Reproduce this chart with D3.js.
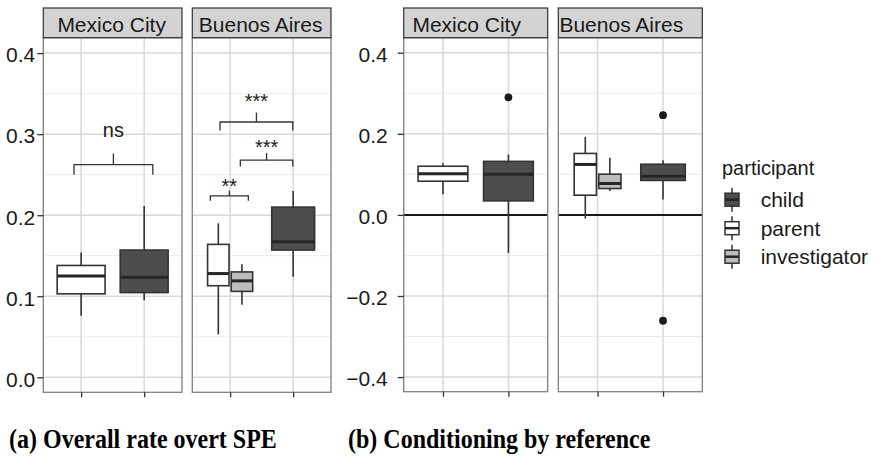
<!DOCTYPE html>
<html>
<head>
<meta charset="utf-8">
<script src="https://cdnjs.cloudflare.com/ajax/libs/d3/7.8.5/d3.min.js"></script>
<style>
body{margin:0;background:#fff}
text{font-family:'Liberation Sans',Arial,sans-serif;fill:#1a1a1a}
</style>
</head>
<body>
<div id="graph"></div>
<script>
var cities = ['Mexico City', 'Buenos Aires']
var participants = ['child', 'parent', 'investigator']
var fills = ['#4d4d4d', '#ffffff', '#bdbdbd']
// adults (parent, investigator) share the first slot, children the second
var slots = {child: 2, parent: 1, investigator: 1}

// city, participant, lower whisker, q1, median, q3, upper whisker
var overallBoxes = [
  ['Mexico City', 'parent', 0.076, 0.103, 0.125, 0.138, 0.154],
  ['Mexico City', 'child', 0.095, 0.1045, 0.1235, 0.157, 0.2115],
  ['Buenos Aires', 'parent', 0.053, 0.113, 0.128, 0.164, 0.19],
  ['Buenos Aires', 'investigator', 0.0896, 0.106, 0.119, 0.130, 0.1395],
  ['Buenos Aires', 'child', 0.124, 0.157, 0.1674, 0.21, 0.23]
]
var overallTicks = [0, 0.1, 0.2, 0.3, 0.4]
var overallMinor = [0.05, 0.15, 0.25, 0.35]

// city, x start, x end, bracket y, tip length, label y, label
var overallSignif = [
  ['Mexico City', 0.887, 2.137, 0.2625, 0.0125, 0.297, 'ns'],
  ['Buenos Aires', 0.84, 1.994, 0.315, 0.0105, 0.3325, '***'],
  ['Buenos Aires', 1.162, 1.994, 0.268, 0.008, 0.2757, '***'],
  ['Buenos Aires', 0.686, 1.289, 0.2238, 0.006, 0.2275, '**']
]

var conditionBoxes = [
  ['Mexico City', 'parent', 0.051, 0.0831, 0.1012, 0.12, 0.128],
  ['Mexico City', 'child', -0.0938, 0.0346, 0.1005, 0.132, 0.149],
  ['Buenos Aires', 'parent', -0.009, 0.0486, 0.1244, 0.1516, 0.1926],
  ['Buenos Aires', 'investigator', 0.059, 0.065, 0.0775, 0.1005, 0.1407],
  ['Buenos Aires', 'child', 0.038, 0.085, 0.0955, 0.125, 0.135]
]
var conditionOutliers = [
  ['Mexico City', 'child', 0.29],
  ['Buenos Aires', 'child', 0.246],
  ['Buenos Aires', 'child', -0.261]
]
var conditionTicks = [-0.4, -0.2, 0, 0.2, 0.4]
var conditionMinor = [-0.3, -0.1, 0.1, 0.3]

var captions = ['(a) Overall rate overt SPE', '(b) Conditioning by reference']


var svg = d3.select('#graph').append('svg')
  .attr('width', 873).attr('height', 457)

var boxWidth = {'Mexico City': 0.76, 'Buenos Aires': 0.68}

drawFacets({
  lefts: [43.3, 192.3], width: 138.7, top: 37.7, bottom: 392.3,
  yDomain: [-0.0185, 0.419], ticks: overallTicks, minor: overallMinor,
  boxes: overallBoxes, outliers: [], signif: overallSignif,
  tickPad: 2, stripShift: -1
})

drawFacets({
  lefts: [403.7, 558.3], width: 144, top: 37.7, bottom: 391.7,
  yDomain: [-0.436, 0.437], ticks: conditionTicks, minor: conditionMinor,
  boxes: conditionBoxes, outliers: conditionOutliers, signif: [],
  tickPad: 10, stripShift: -9, zeroLine: true
})

drawLegend()

svg.selectAll('text.caption').data(captions).join('text')
  .attr('class', 'caption')
  .attr('transform', (d, i) => `translate(${[9, 348][i]},448) scale(1,1.15)`)
  .style('font-family', "'Liberation Serif','Times New Roman',serif")
  .style('font-weight', 'bold')
  .style('font-size', '24px')
  .style('fill', '#000')
  .text(d => d)


function drawFacets(o){
  var g = svg.append('g')
  var y = d3.scaleLinear().domain(o.yDomain).range([o.bottom, o.top])

  cities.forEach((city, ci) => {
    var left = o.lefts[ci], right = left + o.width
    var x = d3.scaleLinear().domain([0.4, 2.6]).range([left, right])
    var p = g.append('g')

    p.selectAll('line.minor').data(o.minor).join('line')
      .attr('x1', left).attr('x2', right)
      .attr('y1', d => y(d)).attr('y2', d => y(d))
      .attr('stroke', '#ebebeb').attr('stroke-width', 1)
    p.selectAll('line.major').data(o.ticks).join('line')
      .attr('x1', left).attr('x2', right)
      .attr('y1', d => y(d)).attr('y2', d => y(d))
      .attr('stroke', '#d9d9d9').attr('stroke-width', 1.5)
    p.selectAll('line.vmajor').data([1, 2]).join('line')
      .attr('x1', d => x(d)).attr('x2', d => x(d))
      .attr('y1', o.top).attr('y2', o.bottom)
      .attr('stroke', '#d9d9d9').attr('stroke-width', 1.5)

    if (o.zeroLine){
      p.append('line')
        .attr('x1', left).attr('x2', right)
        .attr('y1', y(0)).attr('y2', y(0))
        .attr('stroke', '#1a1a1a').attr('stroke-width', 2)
    }

    var rows = o.boxes.filter(d => d[0] == city)
    rows.forEach(d => {
      var same = rows.filter(e => slots[e[1]] == slots[d[1]])
      var n = same.length, k = same.indexOf(d)
      var w = boxWidth[city] / n
      var cx = slots[d[1]] + (k - (n - 1) / 2) * 0.375
      var [lo, q1, med, q3, hi] = d.slice(2)
      var fill = fills[participants.indexOf(d[1])]

      p.append('line')
        .attr('x1', x(cx)).attr('x2', x(cx))
        .attr('y1', y(hi)).attr('y2', y(lo))
        .attr('stroke', '#333').attr('stroke-width', 1.6)
      p.append('rect')
        .attr('x', x(cx - w / 2)).attr('width', x(cx + w / 2) - x(cx - w / 2))
        .attr('y', y(q3)).attr('height', y(q1) - y(q3))
        .attr('fill', fill).attr('stroke', '#333').attr('stroke-width', 1.6)
      p.append('line')
        .attr('x1', x(cx - w / 2)).attr('x2', x(cx + w / 2))
        .attr('y1', y(med)).attr('y2', y(med))
        .attr('stroke', '#262626').attr('stroke-width', 3)

      o.outliers.filter(e => e[0] == city && e[1] == d[1]).forEach(e => {
        p.append('circle')
          .attr('cx', x(cx)).attr('cy', y(e[2])).attr('r', 3.9)
          .attr('fill', '#1a1a1a')
      })
    })

    o.signif.filter(d => d[0] == city).forEach(d => {
      var [, x1, x2, by, tip, ly, label] = d
      var mid = (x1 + x2) / 2
      p.append('path')
        .attr('d', d3.line()([
          [x(x1), y(by - tip)], [x(x1), y(by)], [x(x2), y(by)], [x(x2), y(by - tip)]
        ]))
        .attr('fill', 'none').attr('stroke', '#333').attr('stroke-width', 1.3)
      p.append('line')
        .attr('x1', x(mid)).attr('x2', x(mid))
        .attr('y1', y(by)).attr('y2', y(by + tip * 1.1))
        .attr('stroke', '#333').attr('stroke-width', 1.3)
      p.append('text')
        .attr('x', x(mid)).attr('y', y(ly))
        .attr('text-anchor', 'middle')
        .style('font-size', '20px')
        .text(label)
    })

    // panel border
    p.append('rect')
      .attr('x', left).attr('y', o.top)
      .attr('width', o.width).attr('height', o.bottom - o.top)
      .attr('fill', 'none').attr('stroke', '#7f7f7f').attr('stroke-width', 1.3)

    // strip
    p.append('rect')
      .attr('x', left).attr('y', 8)
      .attr('width', o.width).attr('height', o.top - 8)
      .attr('fill', '#d3d3d3').attr('stroke', '#333').attr('stroke-width', 1.2)
    p.append('text')
      .attr('x', (left + right) / 2 + o.stripShift).attr('y', 32)
      .attr('text-anchor', 'middle')
      .style('font-size', '21px')
      .text(city)

    // x ticks
    p.append('g')
      .attr('transform', `translate(0,${o.bottom})`)
      .call(d3.axisBottom(x).tickValues([1, 2]).tickSize(5).tickFormat(''))
      .call(s => s.select('.domain').remove())
      .call(s => s.selectAll('line').attr('stroke', '#333').attr('stroke-width', 1.3))
  })

  g.append('g')
    .attr('transform', `translate(${o.lefts[0]},0)`)
    .call(d3.axisLeft(y).tickValues(o.ticks).tickSize(6).tickPadding(o.tickPad)
      .tickFormat(d3.format('.1f')))
    .call(s => s.select('.domain').remove())
    .call(s => s.selectAll('line').attr('stroke', '#333').attr('stroke-width', 1.3))
    .call(s => s.selectAll('text')
      .attr('dy', '0.42em')
      .style('font-size', '21px').style('font-family', null).attr('fill', '#1a1a1a'))
}


function drawLegend(){
  var lg = svg.append('g').attr('transform', 'translate(722,0)')
  lg.append('text').attr('x', 0).attr('y', 175)
    .style('font-size', '20px').text('participant')

  var key = lg.selectAll('g.key').data(participants).join('g')
    .attr('transform', (d, i) => `translate(0,${199.7 + i * 28.5})`)
  key.append('line')
    .attr('x1', 10).attr('x2', 10).attr('y1', -12).attr('y2', 12)
    .attr('stroke', '#333').attr('stroke-width', 1.5)
  key.append('rect')
    .attr('x', 3).attr('y', -6.5).attr('width', 14).attr('height', 13)
    .attr('fill', (d, i) => fills[i])
    .attr('stroke', '#333').attr('stroke-width', 1.5)
  key.append('line')
    .attr('x1', 3).attr('x2', 17).attr('y1', 0).attr('y2', 0)
    .attr('stroke', '#262626').attr('stroke-width', 2.5)
  key.append('text')
    .attr('x', 38.7).attr('y', 0).attr('dy', '0.35em')
    .style('font-size', '21px')
    .text(d => d)
}
</script>
</body>
</html>
